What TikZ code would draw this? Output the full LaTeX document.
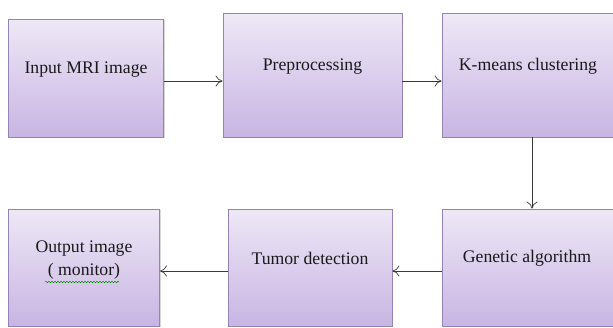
\documentclass[tikz,border=0pt]{standalone}
\usepackage{fontspec}
\setmainfont{Liberation Serif}
\usetikzlibrary{shadows,decorations.pathmorphing,arrows.meta}
\definecolor{boxtop}{HTML}{EEE8F6}
\definecolor{boxbot}{HTML}{C8B5E3}
\definecolor{boxline}{HTML}{9683B6}
\definecolor{arrowc}{HTML}{3A3A3A}
\tikzset{
  stagebox/.style={rectangle, draw=boxline, line width=0.8pt, top color=boxtop, bottom color=boxbot,
    inner sep=0pt, drop shadow={shadow xshift=1.2pt, shadow yshift=-1.2pt, fill=black!35, opacity=0.45}},
  stagetext/.style={font=\fontsize{17.7}{23}\selectfont, text=black!90, align=center, inner sep=0pt},
  flow/.style={draw=arrowc, line width=0.7pt, -{To[length=7pt,width=11pt]}}
}
\begin{document}
\begin{tikzpicture}[x=1pt,y=-1pt]
\useasboundingbox (0,0) rectangle (613,327);
\begin{scope}
\clip (0,0) rectangle (613,327);
\node[stagebox, minimum width=155pt, minimum height=118pt] (b1) at (86,78) {};
\node[stagebox, minimum width=179pt, minimum height=124pt] (b2) at (312.5,75) {};
\node[stagebox, minimum width=172pt, minimum height=124pt] (b3) at (528,75) {};
\node[stagebox, minimum width=151pt, minimum height=117pt] (b4) at (84,267.5) {};
\node[stagebox, minimum width=164pt, minimum height=117pt] (b5) at (310,267.5) {};
\node[stagebox, minimum width=172pt, minimum height=117pt] (b6) at (528,267.5) {};
\end{scope}
\node[stagetext] (t1) at (86,69.5) {Input MRI image};
\node[stagetext] (t2) at (312.5,66.5) {Preprocessing};
\node[stagetext] (t3) at (528,66.5) {K-means clustering};
\node[stagetext] (t4) at (84,260.5) {Output image\\( monitor)};
\node[stagetext] (t5) at (310,258) {Tumor detection};
\node[stagetext] (t6) at (527,258) {Genetic algorithm};
\coordinate (w1) at (45,282);
\coordinate (w2) at (119,282);
\draw[green!55!black, line width=0.5pt, decorate, decoration={snake, amplitude=0.7pt, segment length=3pt}] (w1) -- (w2);
\draw[flow] (b1.east |- 0,81) -- (b2.west |- 0,81);
\draw[flow] (b2.east |- 0,81) -- (b3.west |- 0,81);
\draw[flow] (b3.south -| 532,0) -- (b6.north -| 532,0);
\draw[flow] (b6.west |- 0,271) -- (b5.east |- 0,271);
\draw[flow] (b5.west |- 0,271) -- (b4.east |- 0,271);
\end{tikzpicture}
\end{document}
